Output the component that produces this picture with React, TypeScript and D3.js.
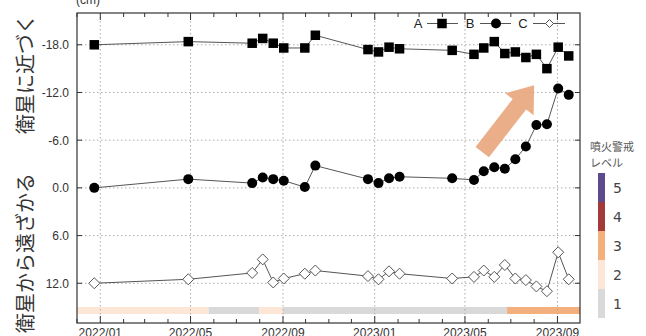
import React from 'react';
import * as d3 from 'd3';

const dates = ['2021-12-24','2022-04-28','2022-07-22','2022-08-05','2022-08-19','2022-09-02','2022-09-30','2022-10-14','2022-12-23','2023-01-06','2023-01-20','2023-02-03','2023-04-14','2023-05-13','2023-05-26','2023-06-09','2023-06-23','2023-07-07','2023-07-21','2023-08-04','2023-08-18','2023-09-02','2023-09-16'];
const seriesA = [-18.0,-18.4,-18.2,-18.8,-18.2,-17.6,-17.6,-19.2,-17.4,-17.1,-17.7,-17.5,-17.3,-16.8,-17.6,-18.4,-16.9,-17.1,-16.4,-16.8,-15.0,-17.7,-16.6];
const seriesB = [0.0,-1.1,-0.6,-1.3,-1.1,-0.9,-0.1,-2.8,-1.1,-0.6,-1.2,-1.4,-1.2,-1.0,-2.1,-2.6,-2.4,-3.6,-5.2,-7.9,-8.0,-12.5,-11.7];
const seriesC = [12.0,11.5,10.7,9.0,11.9,11.4,10.8,10.4,11.1,11.5,10.5,10.8,11.4,11.2,10.4,11.2,9.7,11.4,11.6,12.4,13.0,8.1,11.5];

const yTicks = [-18, -12, -6, 0, 6, 12];
const yTickLabels = ['-18.0', '-12.0', '-6.0', '0.0', '6.0', '12.0'];

const levelStarts = ['2021-12-01','2022-05-25','2022-07-31','2022-09-01','2023-06-26'];
const levelEnds = ['2022-05-25','2022-07-31','2022-09-01','2023-06-26','2023-10-01'];
const levelValues = [2, 1, 2, 1, 3];

const legendLevels = [5, 4, 3, 2, 1];
const levelColors: Record<number, string> = { 1: '#d9d9d9', 2: '#fde6d6', 3: '#f4b07c', 4: '#a33a3a', 5: '#5c4a8c' };

const arrowFrom = { date: '2023-05-24', value: -4.5 };
const arrowTo = { date: '2023-08-01', value: -12.9 };

const parse = d3.timeParse('%Y-%m-%d');

export default function App() {
  const W = 646, H = 336;
  const L = 77, R = 580, T = 13, B = 323;
  const x = d3.scaleTime().domain([parse('2021-12-01')!, parse('2023-10-01')!]).range([L, R]);
  const y = d3.scaleLinear().domain([-22, 17]).range([T, B]);
  const d = dates.map(s => parse(s)!);
  const majors = d3.timeMonth.every(4)!.range(parse('2022-01-01')!, parse('2023-10-01')!);
  const minors = d3.timeMonth.range(parse('2021-12-01')!, parse('2023-10-01')!);
  const line = d3.line<[Date, number]>().x(p => x(p[0])).y(p => y(p[1]));
  const sA = d.map((t, i) => [t, seriesA[i]] as [Date, number]);
  const sB = d.map((t, i) => [t, seriesB[i]] as [Date, number]);
  const sC = d.map((t, i) => [t, seriesC[i]] as [Date, number]);
  const font = '"Liberation Sans", Arial, sans-serif';
  const jp = '"Noto Sans CJK JP", sans-serif';

  // arrow
  const x0 = x(parse(arrowFrom.date)!), y0 = y(arrowFrom.value);
  const x1 = x(parse(arrowTo.date)!), y1 = y(arrowTo.value);
  const len = Math.hypot(x1 - x0, y1 - y0);
  const ux = (x1 - x0) / len, uy = (y1 - y0) / len;
  const px = -uy, py = ux;
  const sw = 8.5, hw = 18, hl = 24;
  const bx = x1 - ux * hl, by = y1 - uy * hl;
  const arrowPts = [
    [x0 + px * sw, y0 + py * sw], [bx + px * sw, by + py * sw], [bx + px * hw, by + py * hw],
    [x1, y1], [bx - px * hw, by - py * hw], [bx - px * sw, by - py * sw], [x0 - px * sw, y0 - py * sw]
  ].map(p => p.join(',')).join(' ');

  const band = d3.scaleBand<number>().domain(legendLevels).range([173, 318]).padding(0);

  const sq = 9.5, cr = 5, dm = 5.5;
  const diamond = (cx: number, cy: number) => `M${cx},${cy - dm}L${cx + dm},${cy}L${cx},${cy + dm}L${cx - dm},${cy}Z`;

  return (
    <svg width={W} height={H} style={{ position: 'absolute', left: 0, top: 0, background: '#fff' }}>
      {/* level band */}
      {levelValues.map((lv, i) => (
        <rect key={'lb' + i} x={x(parse(levelStarts[i])!)} y={307} width={x(parse(levelEnds[i])!) - x(parse(levelStarts[i])!)} height={7} fill={levelColors[lv]} />
      ))}
      {/* grid */}
      {yTicks.map(t => (
        <line key={'gy' + t} x1={L} x2={R} y1={y(t)} y2={y(t)} stroke="#aaa" strokeDasharray="1.5,2.5" />
      ))}
      {majors.map((t, i) => (
        <line key={'gx' + i} x1={x(t)} x2={x(t)} y1={T} y2={B} stroke="#aaa" strokeDasharray="1.5,2.5" />
      ))}
      {/* ticks */}
      {minors.map((t, i) => {
        const major = t.getMonth() % 4 === 0;
        const l = major ? 7 : 4;
        return (
          <g key={'mt' + i}>
            <line x1={x(t)} x2={x(t)} y1={T} y2={T + l} stroke="#333" />
            <line x1={x(t)} x2={x(t)} y1={B} y2={B - l} stroke="#333" />
          </g>
        );
      })}
      {yTicks.map(t => (
        <g key={'yt' + t}>
          <line x1={L} x2={L + 5} y1={y(t)} y2={y(t)} stroke="#333" />
          <line x1={R} x2={R - 5} y1={y(t)} y2={y(t)} stroke="#333" />
        </g>
      ))}
      {/* frame */}
      <rect x={L} y={T} width={R - L} height={B - T} fill="none" stroke="#333" strokeWidth={1.2} />
      {/* arrow */}
      <polygon points={arrowPts} fill="#e8a67c" opacity={0.9} />
      {/* series */}
      <path d={line(sA)!} fill="none" stroke="#555" strokeWidth={1} />
      <path d={line(sB)!} fill="none" stroke="#555" strokeWidth={1} />
      <path d={line(sC)!} fill="none" stroke="#555" strokeWidth={1} />
      {sA.map((p, i) => <rect key={'a' + i} x={x(p[0]) - sq / 2} y={y(p[1]) - sq / 2} width={sq} height={sq} fill="#000" />)}
      {sB.map((p, i) => <circle key={'b' + i} cx={x(p[0])} cy={y(p[1])} r={cr} fill="#000" />)}
      {sC.map((p, i) => <path key={'c' + i} d={diamond(x(p[0]), y(p[1]))} fill="#fff" stroke="#555" strokeWidth={1} />)}
      {/* y tick labels */}
      {yTicks.map((t, i) => (
        <text key={'yl' + t} x={69} y={y(t) + 4.5} textAnchor="end" fontSize={12} fontFamily={font} fill="#333">{yTickLabels[i]}</text>
      ))}
      {/* x tick labels */}
      {majors.map((t, i) => (
        <text key={'xl' + i} x={x(t)} y={337} textAnchor="middle" fontSize={12} fontFamily={font} fill="#333">{d3.timeFormat('%Y/%m')(t)}</text>
      ))}
      <text x={76} y={4} fontSize={12} fontFamily={font} fill="#333">(cm)</text>
      {/* axis titles */}
      <text transform="translate(33,74) rotate(-90)" textAnchor="middle" fontSize={20} fontFamily={jp} fill="#333">衛星に近づく</text>
      <text transform="translate(33,253) rotate(-90)" textAnchor="middle" fontSize={20} fontFamily={jp} fill="#333">衛星から遠ざかる</text>
      {/* legend */}
      <text x={418} y={28} textAnchor="middle" fontSize={13} fontFamily={font} fill="#222">A</text>
      <line x1={427} x2={458} y1={23.5} y2={23.5} stroke="#555" />
      <rect x={442 - sq / 2} y={23.5 - sq / 2} width={sq} height={sq} fill="#000" />
      <text x={470} y={28} textAnchor="middle" fontSize={13} fontFamily={font} fill="#222">B</text>
      <line x1={480} x2={511} y1={23.5} y2={23.5} stroke="#555" />
      <circle cx={496} cy={23.5} r={cr} fill="#000" />
      <text x={523} y={28} textAnchor="middle" fontSize={13} fontFamily={font} fill="#222">C</text>
      <line x1={533} x2={565} y1={23.5} y2={23.5} stroke="#555" />
      <path d={`M549.5,${23.5 - 4}L553.5,23.5L549.5,${23.5 + 4}L545.5,23.5Z`} fill="#fff" stroke="#555" />
      {/* colorbar */}
      <text x={590} y={151} fontSize={11} fontFamily={jp} fill="#555">噴火警戒</text>
      <text x={590} y={167} fontSize={11} fontFamily={jp} fill="#555">レベル</text>
      {legendLevels.map(lv => (
        <g key={'cb' + lv}>
          <rect x={598} y={band(lv)!} width={7} height={band.bandwidth()} fill={levelColors[lv]} />
          <text x={613} y={band(lv)! + band.bandwidth() / 2 + 5} fontSize={14} fontFamily={'"DejaVu Sans", sans-serif'} fill="#444">{lv}</text>
        </g>
      ))}
    </svg>
  );
}
